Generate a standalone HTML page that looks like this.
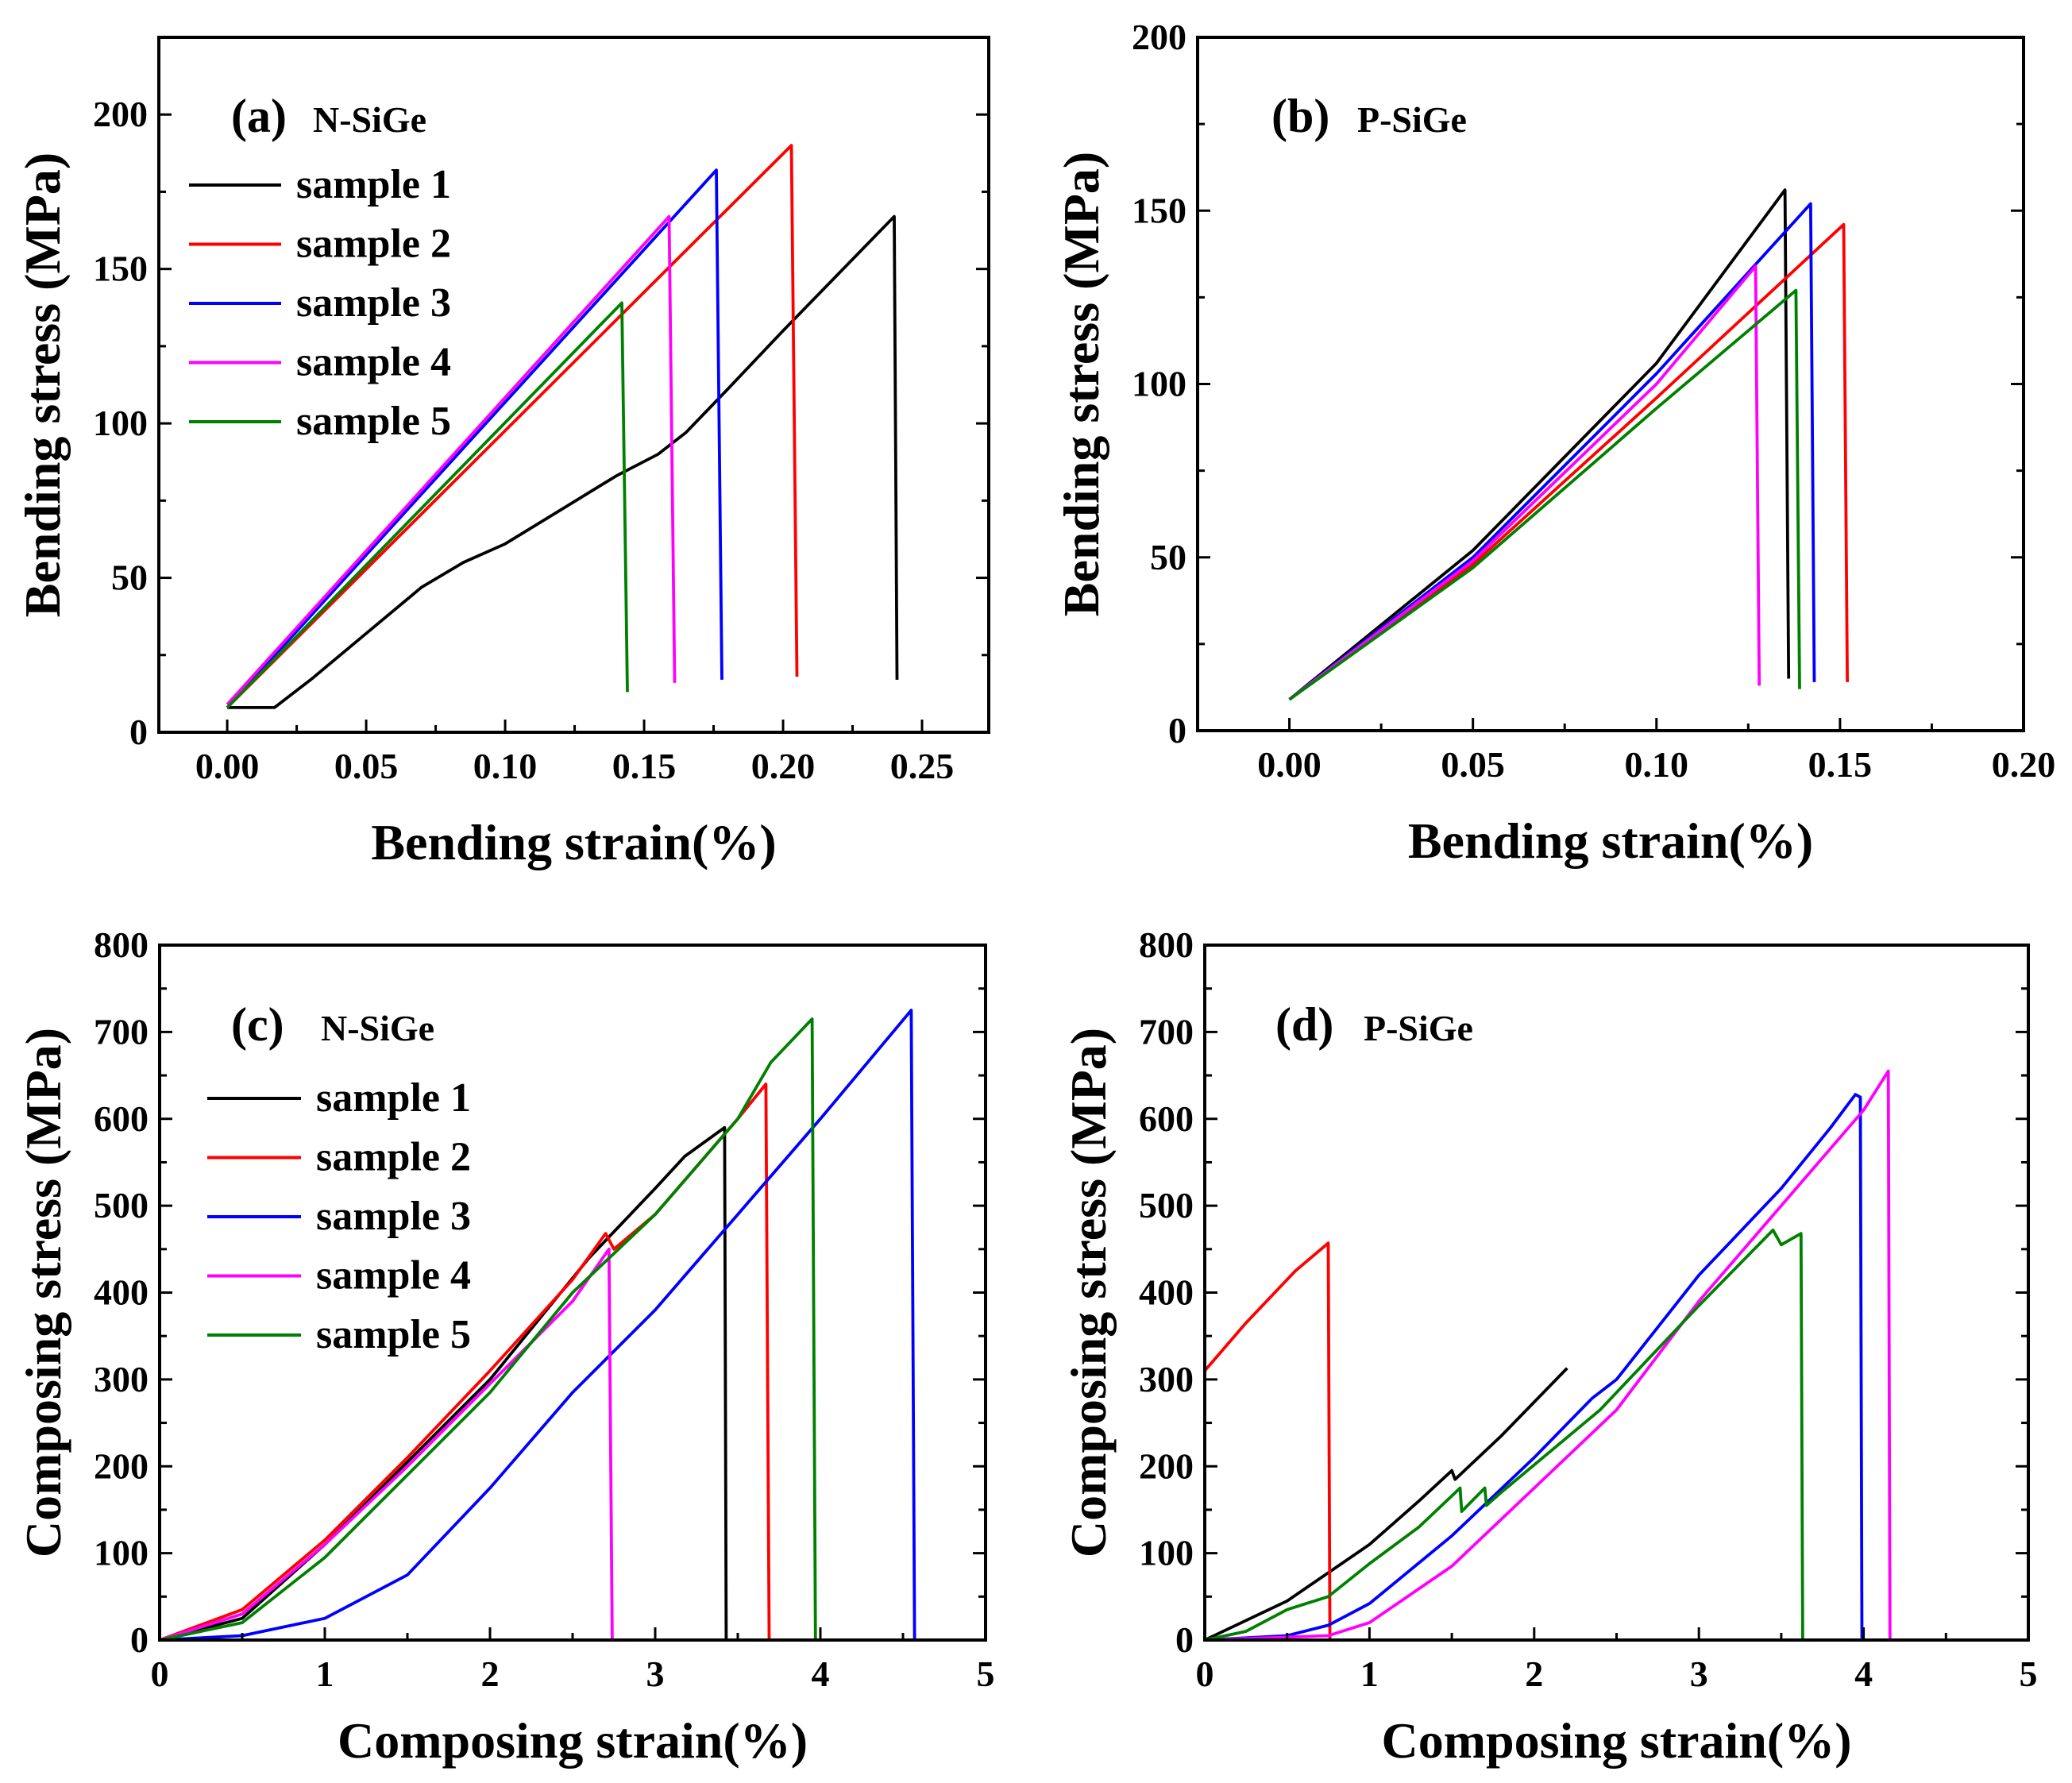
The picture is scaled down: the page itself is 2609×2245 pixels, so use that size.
<!DOCTYPE html>
<html><head><meta charset="utf-8"><style>
html,body{margin:0;padding:0;background:#fff;}
svg{display:block;font-family:"Liberation Serif",serif;font-weight:bold;}
</style></head><body>
<svg id="fig" width="2609" height="2245" viewBox="0 0 2609 2245" xmlns="http://www.w3.org/2000/svg"></svg>
<script>
// ---- Data: panel (a) N-SiGe bending ----
const aS1x=[0,0.017,0.03,0.05,0.07,0.085,0.1,0.12,0.14,0.155,0.165,0.18,0.2,0.24,0.241];
const aS1y=[8,8,17,32,47,55,61,72,83,90,97,111,130,167,17];
const aS2x=[0,0.203,0.205]; const aS2y=[8,190,18];
const aS3x=[0,0.176,0.178]; const aS3y=[8,182,17];
const aS4x=[0,0.159,0.161]; const aS4y=[9,167,16];
const aS5x=[0,0.142,0.144]; const aS5y=[8,139,13];
// ---- panel (b) P-SiGe bending ----
const bS1x=[0,0.05,0.1,0.135,0.136]; const bS1y=[9,52,106,156,15];
const bS2x=[0,0.05,0.1,0.151,0.152]; const bS2y=[9,48,96,146,14];
const bS3x=[0,0.05,0.1,0.142,0.143]; const bS3y=[9,50,103,152,14];
const bS4x=[0,0.05,0.1,0.127,0.128]; const bS4y=[9,49,100,134,13];
const bS5x=[0,0.05,0.1,0.138,0.139]; const bS5y=[9,47,93,127,12];
// ---- panel (c) N-SiGe composing ----
const cS1x=[0,0.5,1,1.5,2,2.3,2.6,3,3.18,3.42,3.43]; const cS1y=[0,25,110,205,300,370,440,520,557,590,0];
const cS2x=[0,0.5,1,1.5,2,2.5,2.7,2.75,3,3.5,3.67,3.69,3.95]; const cS2y=[0,35,115,210,310,415,468,450,490,600,640,0,0];
const cS3x=[0,0.5,1,1.5,2,2.5,3,3.5,4,4.55,4.57,4.92]; const cS3y=[0,5,25,75,175,285,380,490,600,725,0,0];
const cS4x=[0,0.5,1,1.5,2,2.5,2.72,2.74,2.9]; const cS4y=[0,30,110,200,295,390,450,0,0];
const cS5x=[0,0.5,1,1.5,2,2.5,3,3.5,3.7,3.95,3.97,4.15]; const cS5y=[0,20,95,190,285,400,490,600,665,715,0,0];
// ---- panel (d) P-SiGe composing ----
const dS1x=[0,0.5,1,1.3,1.5,1.52,1.8,2.2]; const dS1y=[0,45,110,160,195,185,235,313];
const dS2x=[0,0.25,0.55,0.75,0.76,1.35]; const dS2y=[310,365,425,457,0,0];
const dS3x=[0,0.5,0.75,1,1.5,2,2.35,2.5,3,3.5,3.8,3.95,3.98,3.99,4.2]; const dS3y=[0,5,17,42,120,210,278,300,420,520,590,628,625,0,0];
const dS4x=[0,0.75,1,1.5,2,2.5,3,3.5,4,4.15,4.16,4.4]; const dS4y=[0,5,20,85,175,265,390,500,610,655,0,0];
const dS5x=[0,0.25,0.5,0.75,1,1.3,1.55,1.56,1.7,1.71,1.8,2.4,3,3.45,3.5,3.62,3.63,3.75]; const dS5y=[0,10,35,50,88,130,175,148,175,155,170,265,385,472,455,468,0,0];
const aTicksX=["0.00","0.05","0.10","0.15","0.20","0.25"];
const bTicksX=["0.00","0.05","0.10","0.15","0.20"];
const abTicksY=["0","50","100","150","200"];
const cdTicksX=["0","1","2","3","4","5"];
const cdTicksY=["0","100","200","300","400","500","600","700","800"];
const legendNames=["sample 1","sample 2","sample 3","sample 4","sample 5"];
const colors=["#000000","#ff0000","#0000ff","#ff00ff","#008000"];

const svg=document.getElementById('fig');
const NS="http://www.w3.org/2000/svg";
function mk(tag,attrs,parent){const e=document.createElementNS(NS,tag);for(const k in attrs)e.setAttribute(k,attrs[k]);(parent||svg).appendChild(e);return e;}

function panel(cfg){
  const g=mk('g',{});
  
  
  const X=v=>cfg.L+(v-cfg.x0)/(cfg.x1-cfg.x0)*(cfg.R-cfg.L);
  const Y=v=>cfg.B-(v-cfg.y0)/(cfg.y1-cfg.y0)*(cfg.B-cfg.T);
  cfg.series.forEach((s,i)=>{
    const pts=s[0].map((x,j)=>X(x).toFixed(1)+','+Y(s[1][j]).toFixed(1)).join(' ');
    const p=mk('polyline',{points:pts,fill:'none',stroke:colors[i],'stroke-width':3.8,'stroke-linejoin':'round'},g);
    
    
  });
  const fr=mk('rect',{x:cfg.L,y:cfg.T,width:cfg.R-cfg.L,height:cfg.B-cfg.T,fill:'none',stroke:'#000','stroke-width':4},g);
  
  
  cfg.xt.forEach((t,i)=>{
    const v=cfg.xt0+i*cfg.xstep, x=X(v);
    mk('line',{x1:x,y1:cfg.B,x2:x,y2:cfg.B-16,stroke:'#000','stroke-width':3},g);
    const tx=mk('text',{x:x,y:cfg.B+58,'font-size':46,'text-anchor':'middle'},g);
    tx.textContent=t;
    
    
    const m=v+cfg.xstep/2;
    if(m<cfg.x1){mk('line',{x1:X(m),y1:cfg.B,x2:X(m),y2:cfg.B-9,stroke:'#000','stroke-width':3},g);}
  });
  const mb=cfg.xt0-cfg.xstep/2; if(mb>cfg.x0){mk('line',{x1:X(mb),y1:cfg.B,x2:X(mb),y2:cfg.B-9,stroke:'#000','stroke-width':3},g);}
  cfg.yt.forEach((t,i)=>{
    const v=i*cfg.ystep, y=Y(v);
    [[cfg.L,16],[cfg.R,-16]].forEach(([x0,d])=>{mk('line',{x1:x0,y1:y,x2:x0+d,y2:y,stroke:'#000','stroke-width':3},g);});
    const tx=mk('text',{x:cfg.L-14,y:y+15,'font-size':46,'text-anchor':'end'},g);
    tx.textContent=t;
    
    
    const m=v+cfg.ystep/2;
    if(m<cfg.y1){const ym=Y(m);[[cfg.L,9],[cfg.R,-9]].forEach(([x0,d])=>{mk('line',{x1:x0,y1:ym,x2:x0+d,y2:ym,stroke:'#000','stroke-width':3},g);});}
  });
  const xt=mk('text',{x:(cfg.L+cfg.R)/2,y:cfg.B+cfg.xlOff,'font-size':64,'text-anchor':'middle'},g);
  xt.textContent=cfg.xlabel;
  
  
  const yx=cfg.L-125, yy=(cfg.T+cfg.B)/2;
  const yt=mk('text',{x:yx,y:yy,'font-size':64,'text-anchor':'middle',transform:`rotate(-90 ${yx} ${yy})`},g);
  yt.textContent=cfg.ylabel;
  
  
  const pl=mk('text',{x:cfg.labX,y:cfg.labY,'font-size':60},g);
  pl.textContent='('+cfg.id+')';
  
  
  const mt=mk('text',{x:cfg.matX,y:cfg.labY,'font-size':46},g);
  mt.textContent=cfg.mat;
  
  
  if(cfg.leg){
    legendNames.forEach((n,i)=>{
      const ly=cfg.leg.y+i*cfg.leg.dy;
      const lg=mk('g',{},g);
      
      
      mk('line',{x1:cfg.leg.x1,y1:ly,x2:cfg.leg.x2,y2:ly,stroke:colors[i],'stroke-width':4},lg);
      const t=mk('text',{x:cfg.leg.tx,y:ly+16,'font-size':52},lg);
      t.textContent=n;
    });
  }
}
panel({id:'a',L:200,R:1245,T:47,B:922,x0:-0.0246,x1:0.274,y0:0,y1:225,xt:aTicksX,xt0:0,xstep:0.05,yt:abTicksY,ystep:50,xlOff:160,
  xlabel:'Bending strain(%)',ylabel:'Bending stress (MPa)',labX:291,labY:166,matX:394,mat:'N-SiGe',
  leg:{x1:238,x2:354,tx:373,y:233,dy:74.5},
  series:[[aS1x,aS1y],[aS2x,aS2y],[aS3x,aS3y],[aS4x,aS4y],[aS5x,aS5y]]});
panel({id:'b',L:1508,R:2548,T:47,B:920,x0:-0.025,x1:0.2,y0:0,y1:200,xt:bTicksX,xt0:0,xstep:0.05,yt:abTicksY,ystep:50,xlOff:160,
  xlabel:'Bending strain(%)',ylabel:'Bending stress (MPa)',labX:1601,labY:166,matX:1709,mat:'P-SiGe',
  series:[[bS1x,bS1y],[bS2x,bS2y],[bS3x,bS3y],[bS4x,bS4y],[bS5x,bS5y]]});
panel({id:'c',L:201,R:1241,T:1190,B:2065,x0:0,x1:5,y0:0,y1:800,xt:cdTicksX,xt0:0,xstep:1,yt:cdTicksY,ystep:100,xlOff:148,
  xlabel:'Composing strain(%)',ylabel:'Composing stress (MPa)',labX:291,labY:1310,matX:404,mat:'N-SiGe',
  leg:{x1:261,x2:379,tx:398,y:1383,dy:74.5},
  series:[[cS1x,cS1y],[cS2x,cS2y],[cS3x,cS3y],[cS4x,cS4y],[cS5x,cS5y]]});
panel({id:'d',L:1517,R:2554,T:1190,B:2065,x0:0,x1:5,y0:0,y1:800,xt:cdTicksX,xt0:0,xstep:1,yt:cdTicksY,ystep:100,xlOff:148,
  xlabel:'Composing strain(%)',ylabel:'Composing stress (MPa)',labX:1606,labY:1310,matX:1717,mat:'P-SiGe',
  series:[[dS1x,dS1y],[dS2x,dS2y],[dS3x,dS3y],[dS4x,dS4y],[dS5x,dS5y]]});
</script>
</body></html>
